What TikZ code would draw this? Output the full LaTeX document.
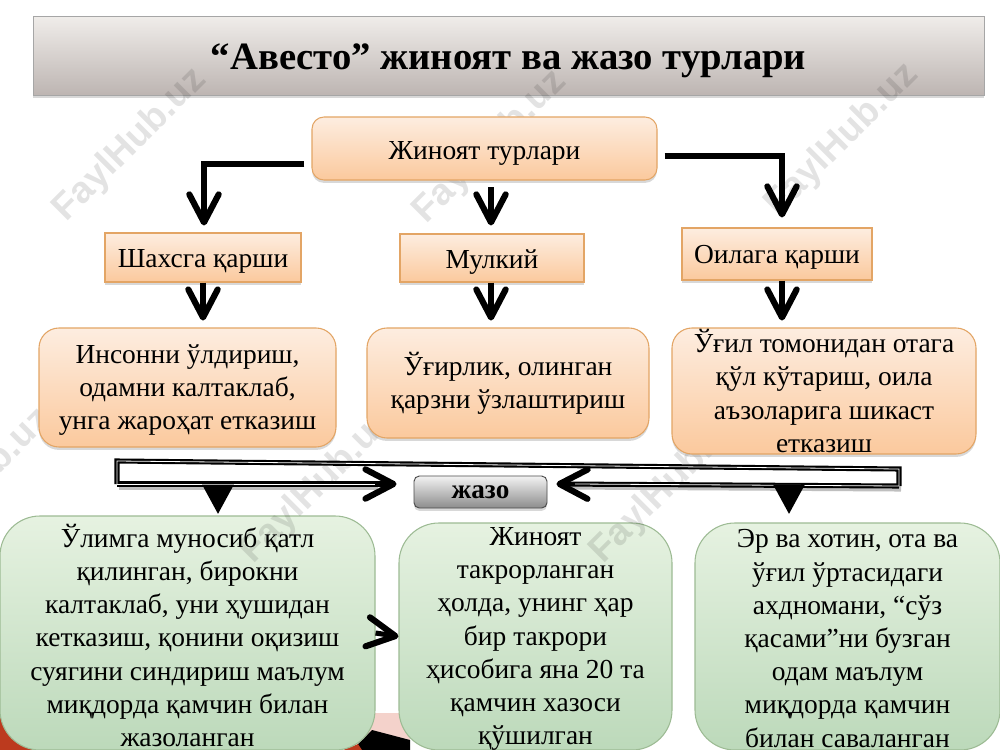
\documentclass[tikz,border=0pt]{standalone}
\usepackage{fontspec}
\setmainfont{Liberation Serif}
\setsansfont{Liberation Sans}
\usetikzlibrary{arrows.meta,shadows,calc}
\def\px{0.75pt}
\newcommand\dwn[1]{\rule{0pt}{#1pt}}
\definecolor{orT}{HTML}{FDEDE0}
\definecolor{orB}{HTML}{FBC99D}
\definecolor{orL}{HTML}{E3A565}
\definecolor{grT}{HTML}{E6F2E1}
\definecolor{grB}{HTML}{BCD9BA}
\definecolor{grL}{HTML}{9DBB94}
\definecolor{tiT}{HTML}{F0EDEA}
\definecolor{tiB}{HTML}{BDB5B2}
\definecolor{decoR}{HTML}{BC3A1E}
\definecolor{decoP}{HTML}{F4D2CB}
\tikzset{
  softshadow/.style={drop shadow={shadow xshift=0pt,shadow yshift=-2.2pt,opacity=.3,fill=black!50}},
  body/.style={font=\fontsize{20.6}{24.9}\selectfont,align=center,inner sep=0pt,text=black},
  orbox/.style={body,draw=orL,line width=.8pt,top color=orT,bottom color=orB,softshadow},
  orrect/.style={orbox,rounded corners=0pt},
  orround/.style={orbox,rounded corners=15pt},
  grbox/.style={body,draw=grL,line width=.8pt,top color=grT,bottom color=grB,rounded corners=30pt},
  conn/.style={line width=3.8pt,draw=black,-{Straight Barb[length=21pt,width=22pt,line width=4.6pt,round]}},
  framing/.style={line width=3.8pt,draw=black},
  sheen/.style={line width=.6pt,draw=white},
  glow/.style={line width=3.8pt,draw=black!25},
  filledtip/.style={line width=3pt,draw=black,-{Triangle[length=22pt,width=23pt,fill=black]}},
  mark text/.style={font=\sffamily\bfseries\fontsize{28}{28}\selectfont,text=black,opacity=.11,rotate=45,inner sep=0pt},
}
\begin{document}
\begin{tikzpicture}[x=\px,y=-\px]
\useasboundingbox (0,0) rectangle (1000,750);
\fill[white] (0,0) rectangle (1000,750);
% bottom decoration
\fill[decoR] (0,700) rectangle (50,750);
\fill[decoP] (360,713) rectangle (410,750);
\fill[black] (352,750) -- (372,730) -- (410,740) -- (410,750) -- cycle;
\fill[decoR] (343,750) -- (358,744) -- (362,750) -- cycle;
% title
\node[draw=black!35,line width=.6pt,top color=tiT,bottom color=tiB,minimum width=951*\px,minimum height=79*\px,inner sep=0pt,softshadow,font=\bfseries\fontsize{29}{32}\selectfont,text=black] (title) at (508.5,55.5) {\dwn{27}“Авесто” жиноят ва жазо турлари};
% green
\node[grbox,minimum width=375*\px,minimum height=234*\px] (ga) at (187.5,633) {\dwn{21}Ўлимга муносиб қатл\\қилинган, бирокни\\калтаклаб, уни ҳушидан\\кетказиш, қонини оқизиш\\суягини синдириш маълум\\миқдорда қамчин билан\\жазоланган};
\node[grbox,minimum width=273*\px,minimum height=227*\px] (gb) at (535.5,636.5) {};
\node[body] (gbtext) at (535.5,639) {Жиноят\\такрорланган\\ҳолда, унинг ҳар\\бир такрори\\ҳисобига яна 20 та\\қамчин хазоси\\қўшилган};
\node[grbox,minimum width=305*\px,minimum height=227*\px] (gc) at (847.5,636.5) {\dwn{16.6}Эр ва хотин, ота ва\\ўғил ўртасидаги\\ахдномани, “сўз\\қасами”ни бузган\\одам маълум\\миқдорда қамчин\\билан саваланган};
% watermark
\node[mark text] (wa) at (130,145) {FaylHub.uz};
\node[mark text] (wb) at (490,147) {FaylHub.uz};
\node[mark text] (wc) at (842,140) {FaylHub.uz};
\node[mark text] (wd) at (-25,485) {FaylHub.uz};
\node[mark text] (we) at (317,487) {FaylHub.uz};
\node[mark text] (wf) at (667,487) {FaylHub.uz};
% first row
\node[orround,rounded corners=9pt,minimum width=345*\px,minimum height=63*\px] (top) at (484.5,148.5) {\dwn{21}Жиноят турлари};
\node[orrect,minimum width=196*\px,minimum height=49*\px] (shax) at (203,257.5) {\dwn{19.6}Шахсга қарши};
\node[orrect,minimum width=184*\px,minimum height=48*\px] (mulk) at (492,258) {\dwn{19.6}Мулкий};
\node[orrect,minimum width=190*\px,minimum height=52*\px] (oila) at (777,254) {\dwn{18}Оилага қарши};
% second row
\node[orround,minimum width=297*\px,minimum height=119*\px] (ins) at (187.5,387.5) {\dwn{18}Инсонни ўлдириш,\\одамни калтаклаб,\\унга жароҳат етказиш};
\node[orround,minimum width=282*\px,minimum height=110*\px] (ogh) at (508,383) {Ўғирлик, олинган\\қарзни ўзлаштириш};
\node[orround,minimum width=304*\px,minimum height=126*\px] (ugil) at (824,391) {Ўғил томонидан отага\\қўл кўтариш, оила\\аъзоларига шикаст\\етказиш};
% penalty
\node[draw=black!70,line width=.7pt,rounded corners=4pt,top color=black!5,bottom color=black!45,minimum width=133*\px,minimum height=32*\px,inner sep=0pt,softshadow,font=\bfseries\fontsize{20.4}{22}\selectfont] (jazo) at (480.5,492) {жазо};
% connectors
\coordinate (topL) at ($(top.west)+(-7,15.5)$);
\coordinate (topR) at ($(top.east)+(7,7.5)$);
\coordinate (shaxT) at ($(shax.north)+(1,-7)$);
\coordinate (oilaT) at ($(oila.north)+(5,-10)$);
\draw[conn] (topL) -| (shaxT);
\draw[conn] (topR) -| (oilaT);
\draw[conn] ($(mulk.north)+(-1,-46)$) -- ($(mulk.north)+(-1,-8)$);
\draw[conn] (shax.south) -- ++(0,38);
\draw[conn] (mulk.south) ++(-1,0) -- ++(0,38);
\draw[conn] (oila.south) ++(5,0) -- ++(0,40);
\draw[conn] (ga.east) -- (gb.west);
% collecting frame
\coordinate (frTL) at (117,461);
\coordinate (frBL) at (117,484);
\coordinate (frTR) at (899,469);
\coordinate (frBR) at (899,486);
\coordinate (jzL) at ($(jazo.west)+(-17,-8)$);
\coordinate (jzR) at ($(jazo.east)+(9,-8)$);
\draw[glow] (119,487) -- (378,487);
\draw[glow] (901,489) -- (570,487);
\draw[framing] (frBL) -- (frTL) -- (frTR) -- (frBR);
\draw[conn] (frBL) -- (jzL);
\draw[conn] (frBR) -- (jzR);
\draw[sheen] (frBL) -- (frTL) -- (frTR) -- (frBR);
\draw[sheen] (frBL) -- (375,484);
\draw[sheen] (frBR) -- (575,484);
\coordinate (dropLs) at (218,486);
\coordinate (dropLe) at (218,514);
\coordinate (dropRs) at (789,487);
\coordinate (dropRe) at (789,514);
\draw[filledtip] (dropLs) -- (dropLe);
\draw[filledtip] (dropRs) -- (dropRe);
\end{tikzpicture}
\end{document}
